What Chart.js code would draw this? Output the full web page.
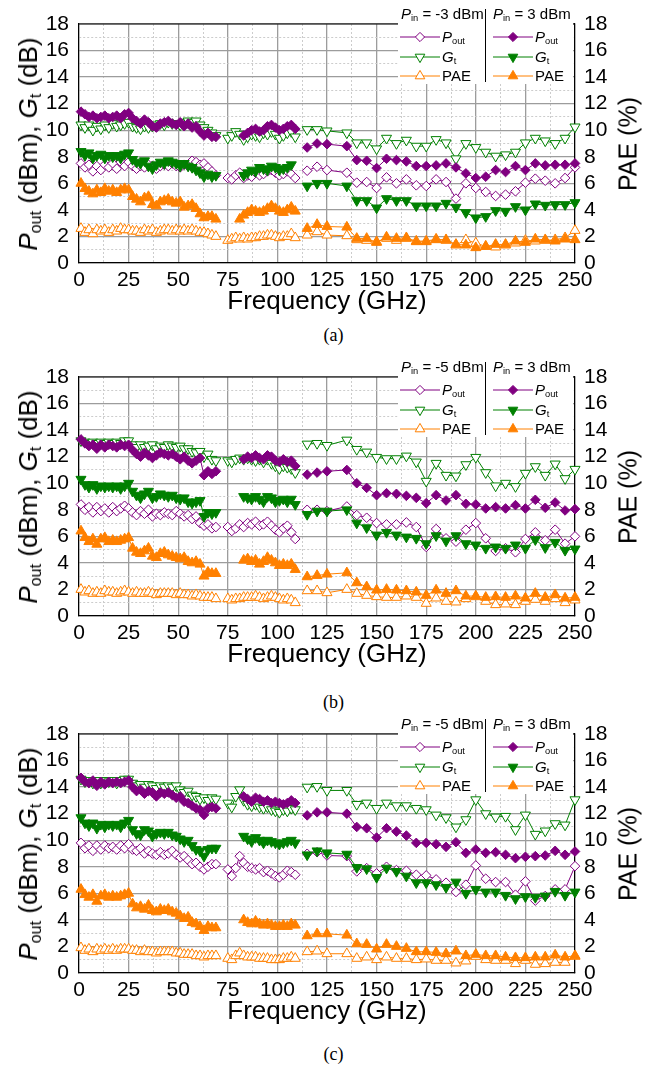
<!DOCTYPE html>
<html>
<head>
<meta charset="utf-8">
<script src="https://cdn.jsdelivr.net/npm/chart.js@4.4.1/dist/chart.umd.min.js"></script>
<style>
  body { margin: 0; background: #fff; font-family: "Liberation Sans", Arial, sans-serif; }
  #page { position: relative; width: 667px; height: 1069px; overflow: hidden; }
  .panel { position: absolute; left: 0; width: 667px; height: 360px; }
  .panel canvas { position: absolute; left: 0; top: 0; }
  .ytitle { position: absolute; white-space: nowrap; transform: translate(-50%, -50%) rotate(-90deg); color: #000; }
  .ytitle sub, .leg sub { font-size: 0.62em; vertical-align: -0.25em; font-style: normal; }
  .tag { position: absolute; width: 667px; text-align: center; font-family: "Liberation Serif", "Times New Roman", serif; font-size: 18px; }
  .legbox { position: absolute; background: #fff; }
  .leg { position: absolute; font-size: 15px; line-height: 18px; white-space: nowrap; color: #000; }
  .legdiv { position: absolute; width: 1px; background: #000; }
</style>
</head>
<body>
<div id="page"></div>
<script>
// frequency grid (GHz): dense coax band, W band, and 5 GHz steps above
const FREQ_LOW = [1,3,5,7,9,11,13,15,17,19,21,23,25,27,29,31,33,35,37,39,41,43,45,47,49,51,53,55,57,59,61,63,65,67,69];
const FREQ_MID = [75,77,79,81,83,85,87,89,91,93,95,97,99,101,103,105,107,109];
const FREQ_HIGH = [115,120,125,135,140,145,150,155,160,165,170,175,180,185,190,195,200,205,210,215,220,225,230,235,240,245,250];

const X_TICKS = [0,25,50,75,100,125,150,175,200,225,250];
const Y_TICKS = [0,2,4,6,8,10,12,14,16,18];

// (a) Pin = -3 dBm / 3 dBm
const aPoutLo = [7.5,7.2,7.4,6.9,7.3,7.0,7.4,7.2,7.5,7.1, 7.6,7.3,7.6,7.3,7.1,7.3,7.2,7.4,7.3,7.1, 7.3,7.4,7.3,7.5,7.3,7.2,7.4,7.3,7.7,7.6, 7.4,7.5,7.2,6.9,6.6,
  6.4,6.3,6.6,6.8,6.4,6.6,6.5,6.8,6.6,6.7, 6.9,7.0,6.8,6.6,6.7,6.9,6.7,6.4,
  6.95,7.25,7.0,6.8,6.05,6.1,5.65,6.45,6.0,6.3, 5.85,5.8,6.3,6.1,4.85,6.0,5.65,5.35,5.05,5.15, 5.4,6.05,6.35,6.2,6.0,6.4,7.2];
const aGtLo = [10.4,10.2,10.4,10.0,10.3,10.1,10.4,10.2,10.5,10.3, 10.4,10.5,10.6,10.3,10.2,10.1,10.3,10.2,10.3,10.4, 10.5,10.4,10.6,10.5,10.5,10.4,10.6,10.7,10.6,10.7, 10.4,10.2,10.0,9.8,9.6,
  9.4,9.6,9.9,9.7,9.3,9.5,9.7,9.6,9.5,9.8, 9.7,9.9,9.7,9.4,9.6,9.8,9.9,9.5,
  10.05,10.05,9.95,9.8,9.05,9.05,8.6,9.4,9.0,9.25, 8.8,8.8,9.3,9.05,7.85,9.0,8.7,8.35,8.05,8.15, 8.35,9.05,9.4,9.2,9.0,9.4,10.25];
const aPaeLo = [2.6,2.3,2.5,2.2,2.5,2.4,2.5,2.3,2.5,2.4, 2.6,2.5,2.5,2.4,2.4,2.3,2.5,2.4,2.5,2.3, 2.4,2.5,2.5,2.4,2.5,2.4,2.5,2.4,2.5,2.4, 2.3,2.3,2.2,2.1,2.0,
  1.7,1.8,1.9,1.8,1.9,1.8,1.9,1.9,2.0,2.0, 2.1,2.1,2.0,1.9,2.0,2.0,2.2,1.9,
  2.1,2.35,2.1,2.05,1.75,1.7,1.6,1.85,1.7,1.85, 1.65,1.65,1.8,1.7,1.35,1.75,1.5,1.25,1.2,1.35, 1.5,1.7,1.65,1.7,1.75,1.9,2.45];
const aPoutHi = [11.4,11.2,11.0,11.1,10.9,11.0,11.1,10.9,11.0,11.1, 10.9,11.2,11.3,10.9,10.7,10.5,10.8,10.6,10.3,10.2, 10.5,10.6,10.7,10.5,10.4,10.6,10.3,10.5,10.2,10.3, 9.9,9.6,9.8,9.5,9.5,
  null,null,null,null,9.6,9.8,10.0,10.1,9.9,10.0, 10.3,10.4,10.2,10.0,10.1,10.3,10.4,10.1,
  8.7,9.0,8.95,8.8,7.75,7.7,7.15,7.85,7.75,7.65, 7.3,7.3,7.35,7.5,7.2,6.75,6.4,6.5,7.0,6.85, 7.3,7.0,7.5,7.35,7.4,7.4,7.5];
const aGtHi = [8.4,8.1,8.3,7.9,8.1,8.2,7.9,8.1,8.0,8.1, 7.9,8.2,8.3,7.8,7.6,7.5,7.7,7.3,7.1,7.4, 7.6,7.5,7.7,7.6,7.5,7.3,7.5,7.3,7.2,7.0, 6.8,6.5,6.7,6.5,6.6,
  null,null,null,null,6.6,6.8,7.0,6.9,7.2,7.1, 7.0,7.3,7.2,7.0,7.1,7.2,7.4,null,
  5.8,6.0,6.0,5.8,4.7,4.7,4.15,4.85,4.7,4.7, 4.3,4.3,4.3,4.5,4.2,3.8,3.4,3.5,3.95,3.9, 4.25,4.0,4.45,4.35,4.4,4.4,4.55];
const aPaeHi = [6.0,5.6,5.4,5.2,5.5,5.3,5.6,5.4,5.5,5.3, 5.5,5.6,5.5,5.0,4.8,4.6,4.9,5.0,4.4,4.3, 4.6,4.7,4.8,4.6,4.5,4.6,4.2,4.3,4.4,4.1, 3.7,3.4,3.5,3.5,3.3,
  null,null,null,3.3,3.6,3.8,4.0,3.9,3.8,3.9, 4.1,4.3,4.1,3.9,3.8,4.0,4.2,3.9,
  2.6,2.9,2.75,2.7,1.85,1.85,1.55,1.95,1.85,1.9, 1.6,1.6,1.75,1.75,1.4,1.35,1.15,1.25,1.4,1.4, 1.65,1.55,1.8,1.75,1.65,1.8,1.75];

// (b) Pin = -5 dBm / 3 dBm
const bPoutLo = [8.4,8.0,8.2,7.8,8.2,7.9,8.1,7.8,8.2,7.9, 8.1,8.3,8.1,7.8,7.6,7.9,7.7,8.0,7.5,7.7, 7.6,7.8,7.7,7.6,7.9,7.7,7.5,7.6,7.3,7.5, 7.0,6.8,6.9,6.6,6.7,
  6.7,6.4,6.6,6.9,6.7,7.0,6.9,7.1,6.8,6.9, 7.1,6.8,6.5,6.3,6.6,6.8,6.3,5.8,
  8.0,8.0,7.9,8.25,7.6,7.4,7.0,6.9,6.9,7.05, 6.7,5.2,6.55,5.85,5.6,6.5,7.0,5.85,4.9,5.1, 4.8,5.8,6.3,5.7,6.5,5.45,6.0];
const bGtLo = [13.2,13.1,13.0,13.1,13.0,13.1,13.0,13.1,13.0,13.1, 13.0,13.2,13.2,12.9,12.7,12.9,12.7,12.8,12.9,12.6, 12.8,12.7,12.9,12.8,12.7,12.8,12.6,12.6,12.4,12.3, 12.4,12.0,12.2,11.8,11.7,
  11.7,11.6,11.8,11.9,11.8,11.9,11.8,11.7,11.8,11.6, 11.8,11.5,11.3,11.1,11.3,11.2,11.1,10.8,
  12.95,13.0,12.85,13.25,12.55,12.35,11.95,11.85,11.85,12.05, 11.6,10.15,11.5,10.6,10.55,11.4,11.95,10.8,9.8,10.0, 9.75,10.75,11.25,10.6,11.45,10.35,11.05];
const bPaeLo = [2.0,1.8,1.9,1.7,1.8,1.7,1.9,1.8,1.8,1.7, 1.8,1.9,1.8,1.7,1.8,1.7,1.7,1.8,1.7,1.6, 1.7,1.7,1.7,1.7,1.6,1.7,1.6,1.6,1.5,1.6, 1.5,1.4,1.4,1.4,1.3,
  1.3,1.2,1.3,1.3,1.4,1.4,1.4,1.5,1.4,1.3, 1.4,1.5,1.4,1.3,1.2,1.3,1.2,1.0,
  1.9,1.9,1.75,2.0,1.7,1.55,1.45,1.4,1.4,1.5, 1.4,0.95,1.35,1.1,1.05,1.3,1.45,1.1,0.85,0.9, 0.85,1.1,1.25,1.1,1.3,1.0,1.2];
const bPoutHi = [13.3,13.0,12.8,12.9,12.6,12.9,12.7,12.9,12.8,12.7, 12.9,12.8,12.9,12.5,12.2,12.0,12.3,12.1,11.9,12.1, 12.3,12.2,12.1,12.2,12.0,11.8,12.0,11.7,11.5,11.7, 11.9,10.6,10.9,10.7,10.9,
  null,null,null,null,11.8,12.0,11.9,12.1,11.9,11.8, 12.1,12.0,11.7,11.6,11.8,11.6,11.7,11.3,
  10.65,10.8,10.9,11.0,10.0,9.65,9.1,9.25,9.2,9.05, 8.9,8.5,9.1,8.7,9.1,8.45,8.4,8.1,8.2,8.1, 8.35,8.1,8.75,8.15,8.55,7.95,8.05];
const bGtHi = [10.3,9.9,9.7,9.9,9.6,9.8,9.7,9.8,9.7,9.8, 9.6,9.8,10.0,9.4,9.1,8.9,9.2,9.4,8.9,9.0, 9.2,9.1,9.0,9.1,8.9,8.8,8.9,8.6,8.5,8.6, 8.7,7.5,7.8,7.7,7.8,
  null,null,null,null,9.0,8.9,8.8,9.0,8.8,8.6, 9.0,8.9,8.6,8.7,8.8,8.6,8.8,8.4,
  7.65,7.9,7.9,8.0,7.0,6.65,6.1,6.3,6.1,5.95, 5.85,5.45,6.05,5.65,6.05,5.45,5.35,5.1,5.2,5.1, 5.35,5.1,5.75,5.15,5.55,4.95,5.05];
const bPaeHi = [6.4,5.9,5.6,5.8,5.4,5.8,5.9,5.6,5.7,5.6, 5.7,5.8,5.9,5.1,4.8,4.7,4.9,5.1,4.5,4.4, 4.7,4.8,4.6,4.5,4.4,4.3,4.4,4.1,4.0,4.1, 3.9,3.0,3.3,3.2,3.2,
  null,null,null,null,4.2,4.3,4.1,4.2,3.9,4.1, 4.4,4.2,4.0,3.8,3.9,3.8,3.9,3.5,
  2.95,3.05,3.15,3.25,2.5,2.2,1.95,2.0,1.95,1.9, 1.8,1.55,1.95,1.7,1.9,1.5,1.5,1.4,1.45,1.4, 1.5,1.35,1.7,1.4,1.6,1.35,1.4];

// (c) Pin = -5 dBm / 3 dBm
const cPoutLo = [9.8,9.4,9.6,9.2,9.6,9.3,9.6,9.4,9.5,9.3, 9.6,9.4,9.7,9.3,9.2,9.4,9.0,9.2,9.0,8.9, 9.1,8.9,9.0,9.2,8.9,8.7,8.8,8.5,8.2,8.3, 8.0,7.8,8.0,8.2,8.2,
  7.8,7.3,7.9,8.8,8.3,8.0,7.9,7.8,7.9,7.6, 7.7,7.5,7.3,7.2,7.4,7.7,7.6,7.4,
  8.98,9.1,8.85,8.8,7.65,7.9,7.5,8.0,7.75,7.7, 7.4,7.35,7.05,6.8,6.1,6.65,8.1,7.1,6.85,6.85, 5.9,6.9,5.45,5.8,6.3,6.3,8.05];
const cGtLo = [14.6,14.4,14.5,14.3,14.5,14.3,14.5,14.4,14.5,14.3, 14.5,14.6,14.6,14.3,14.1,14.2,14.0,14.2,14.1,13.9, 14.1,14.0,14.1,14.0,14.1,13.8,13.6,13.7,13.4,13.3, 13.1,13.2,13.0,13.2,13.1,
  12.8,12.5,13.3,13.8,13.0,12.7,12.6,12.7,12.5,12.4, 12.5,12.3,12.2,12.1,12.3,12.2,12.4,12.3,
  14.0,14.05,13.75,13.75,12.7,12.8,12.4,12.8,12.6,12.6, 12.4,12.3,11.9,11.7,11.0,11.55,13.05,12.0,11.75,11.8, 10.8,11.9,10.45,10.7,11.25,11.15,13.05];
const cPaeLo = [1.9,1.7,1.8,1.6,1.8,1.7,1.8,1.7,1.8,1.7, 1.8,1.8,1.8,1.7,1.7,1.6,1.7,1.6,1.6,1.5, 1.6,1.6,1.6,1.6,1.5,1.5,1.4,1.4,1.4,1.3, 1.3,1.2,1.3,1.3,1.3,
  1.1,1.0,1.3,1.5,1.3,1.2,1.2,1.2,1.1,1.1, 1.1,1.0,1.0,1.0,1.1,1.1,1.2,1.1,
  1.6,1.65,1.45,1.45,1.1,1.2,1.0,1.2,1.1,1.1, 1.0,1.05,0.95,0.95,0.75,0.9,1.25,1.0,0.95,0.95, 0.7,0.95,0.65,0.7,0.8,0.8,1.25];
const cPoutHi = [14.7,14.4,14.3,14.5,14.1,14.4,14.2,14.4,14.3,14.4, 14.3,14.4,14.5,14.0,13.7,13.8,13.5,13.7,13.6,13.3, 13.6,13.5,13.6,13.4,13.2,13.3,12.9,12.8,12.6,12.4, 12.3,11.9,12.4,12.5,12.4,
  null,null,null,null,13.3,13.1,12.9,13.2,13.1,12.9, 13.0,12.8,12.9,12.8,12.7,12.8,13.0,12.8,
  11.87,12.1,12.1,12.0,11.0,10.9,10.2,10.9,10.65,10.35, 9.8,9.8,9.7,9.5,9.85,9.05,9.3,9.05,9.1,8.9, 8.65,8.75,8.8,8.85,9.2,8.9,9.15];
const cGtHi = [11.7,11.3,11.1,11.3,10.9,11.2,11.0,11.2,11.1,11.2, 11.0,11.3,11.5,10.8,10.5,10.4,10.8,10.7,10.3,10.5, 10.6,10.5,10.6,10.4,10.3,10.1,9.9,10.0,9.6,9.3, 9.2,8.8,9.3,9.4,9.4,
  null,null,null,null,10.3,10.1,9.9,10.2,10.0,9.8, 10.0,9.9,9.8,9.7,9.8,9.9,10.0,9.8,
  8.9,9.2,9.05,8.95,7.95,7.85,7.2,7.9,7.65,7.3, 6.8,6.8,6.65,6.45,6.85,6.0,6.3,6.1,6.1,5.85, 5.6,5.75,5.7,5.8,6.15,5.85,6.1];
const cPaeHi = [6.3,5.9,5.7,5.9,5.4,5.8,5.9,5.7,5.8,5.7, 5.8,5.9,6.0,5.2,4.9,5.0,4.8,5.1,4.7,4.6, 4.8,4.7,4.8,4.6,4.5,4.3,4.1,4.2,3.8,3.7, 3.5,3.2,3.5,3.4,3.4,
  null,null,null,null,4.0,3.8,3.7,3.9,3.7,3.6, 3.7,3.6,3.5,3.5,3.6,3.5,3.7,3.6,
  2.8,2.95,2.95,2.85,2.2,2.15,1.8,2.15,2.0,1.85, 1.6,1.6,1.55,1.45,1.65,1.3,1.4,1.3,1.3,1.2, 1.15,1.15,1.2,1.2,1.35,1.2,1.3];

const PURPLE = '#800080', GREEN = '#008000', ORANGE = '#ff8000';
const PLOT_TOP = 24, PLOT_H = 239, CANVAS_H = 320;

// join the three frequency bands, breaking the line between them
function toPoints(values) {
  const pts = [];
  let k = 0;
  [FREQ_LOW, FREQ_MID, FREQ_HIGH].forEach(f => {
    f.forEach(x => pts.push({x: x, y: values[k++]}));
    pts.push({x: f[f.length - 1] + 1, y: null});
  });
  return pts;
}

function series(label, values, color, shape, filled, axis) {
  return {
    label: label,
    data: toPoints(values),
    borderColor: color,
    backgroundColor: filled ? color : '#fff',
    pointBackgroundColor: filled ? color : '#fff',
    pointStyle: shape === 'diamond' ? 'rectRot' : 'triangle',
    pointRotation: shape === 'down' ? 180 : 0,
    pointRadius: shape === 'diamond' ? 4.8 : 5.8,
    pointBorderWidth: 1,
    borderWidth: 1,
    yAxisID: axis,
    spanGaps: false,
    tension: 0,
    clip: false,
    order: filled ? 1 : 2,
    _shape: shape,
    _filled: filled
  };
}

const frame = {
  id: 'frame',
  afterDraw(chart) {
    const {ctx, chartArea} = chart;
    ctx.save();
    ctx.strokeStyle = '#000';
    ctx.lineWidth = 1.2;
    ctx.beginPath();
    ctx.moveTo(chartArea.left, chartArea.top);
    ctx.lineTo(chartArea.right, chartArea.top);
    ctx.stroke();
    ctx.restore();
  }
};

const tickFont = {family: 'Liberation Sans', size: 21};
const gridColor = c => (c.index % 2 ? '#cccccc' : '#9c9c9c');
const gridWidth = c => (c.index % 2 ? 1 : 1.3);
const gridDash = c => (c.index % 2 ? [2, 2] : []);

function yAxis(pos) {
  return {
    type: 'linear',
    position: pos,
    min: 0, max: 18,
    afterFit: s => { s.width = pos === 'left' ? 79 : 92; },
    ticks: {
      stepSize: 1, autoSkip: false, padding: pos === 'left' ? 10 : 9, color: '#000', font: tickFont,
      callback: v => (Y_TICKS.includes(v) ? v : '')
    },
    grid: {display: pos === 'left', drawOnChartArea: pos === 'left', drawTicks: false, color: gridColor, lineWidth: gridWidth},
    border: {color: '#000', width: 1.2, dash: gridDash}
  };
}

function markerSvg(ds) {
  const c = ds.borderColor, fill = ds._filled ? c : '#fff';
  let shape;
  if (ds._shape === 'diamond') shape = '<polygon points="21,3.4 25.6,8 21,12.6 16.4,8" />';
  else if (ds._shape === 'up') shape = '<polygon points="21,2.4 25.8,10.8 16.2,10.8" />';
  else shape = '<polygon points="21,13.6 25.8,5.2 16.2,5.2" />';
  return '<svg width="42" height="16" style="position:absolute;left:0;top:1px">' +
    '<line x1="1" y1="8" x2="41" y2="8" stroke="' + c + '" stroke-width="1"/>' +
    shape.replace('/>', 'fill="' + fill + '" stroke="' + c + '" stroke-width="1"/>') + '</svg>';
}

const LABELS = ['<i>P</i><sub>out</sub>', '<i>G</i><sub>t</sub>', 'PAE'];

function panel(top, tag, tagY, pinLo, sets) {
  const page = document.getElementById('page');
  const box = document.createElement('div');
  box.className = 'panel';
  box.style.top = top + 'px';
  const cv = document.createElement('canvas');
  cv.width = 667; cv.height = CANVAS_H;
  box.appendChild(cv);
  page.appendChild(box);

  const datasets = [
    series('Pout ' + pinLo, sets[0], PURPLE, 'diamond', false, 'y'),
    series('Gt ' + pinLo, sets[1], GREEN, 'down', false, 'y'),
    series('PAE ' + pinLo, sets[2], ORANGE, 'up', false, 'y2'),
    series('Pout 3', sets[3], PURPLE, 'diamond', true, 'y'),
    series('Gt 3', sets[4], GREEN, 'down', true, 'y'),
    series('PAE 3', sets[5], ORANGE, 'up', true, 'y2')
  ];

  new Chart(cv, {
    type: 'line',
    data: {datasets: datasets},
    plugins: [frame],
    options: {
      responsive: false,
      animation: false,
      layout: {padding: {top: PLOT_TOP, left: 0, right: 0, bottom: 0}},
      plugins: {legend: {display: false}, tooltip: {enabled: false}},
      scales: {
        x: {
          type: 'linear', min: 0, max: 250,
          afterFit: s => { s.height = CANVAS_H - PLOT_TOP - PLOT_H; },
          ticks: {
            stepSize: 12.5, autoSkip: false, maxRotation: 0, padding: 5, color: '#000', font: tickFont,
            callback: v => (X_TICKS.includes(v) ? v : '')
          },
          grid: {drawTicks: false, color: gridColor, lineWidth: gridWidth},
          border: {color: '#000', width: 1.2, dash: gridDash},
          title: {display: true, text: 'Frequency (GHz)', color: '#000',
                  font: {family: 'Liberation Sans', size: 26}, padding: {top: 0, bottom: 3}}
        },
        y: yAxis('left'),
        y2: yAxis('right')
      }
    }
  });

  const cy = PLOT_TOP + PLOT_H / 2;
  const add = (cls, html, css) => {
    const d = document.createElement('div');
    d.className = cls;
    d.innerHTML = html;
    Object.assign(d.style, css);
    box.appendChild(d);
    return d;
  };
  add('ytitle', '<i>P</i><sub>out</sub> (dBm), <i>G</i><sub>t</sub> (dB)', {left: '29px', top: cy + 'px', fontSize: '26px'});
  add('ytitle', 'PAE (%)', {left: '628px', top: cy + 'px', fontSize: '25px'});
  add('tag', tag, {left: '0px', top: (tagY - top - 11) + 'px'});

  // legend: two columns, header with input power
  add('legbox', '', {left: '398px', top: (PLOT_TOP - 17) + 'px', width: '175px', height: '77px'});
  add('legdiv', '', {left: '485px', top: (PLOT_TOP - 15) + 'px', height: '73px'});
  add('leg', '<i>P</i><sub>in</sub> = ' + pinLo + ' dBm', {left: '401px', top: (PLOT_TOP - 19) + 'px'});
  add('leg', '<i>P</i><sub>in</sub> = 3 dBm', {left: '493px', top: (PLOT_TOP - 19) + 'px'});
  const rowY = [13, 33, 52];
  for (let i = 0; i < 3; i++) {
    const y = PLOT_TOP + rowY[i] - 9;
    add('leg', markerSvg(datasets[i]), {left: '399px', top: y + 'px', width: '42px', height: '18px'});
    add('leg', LABELS[i], {left: '442px', top: y + 'px'});
    add('leg', markerSvg(datasets[i + 3]), {left: '492px', top: y + 'px', width: '42px', height: '18px'});
    add('leg', LABELS[i], {left: '535px', top: y + 'px'});
  }
}

panel(0, '(a)', 336, '-3', [aPoutLo, aGtLo, aPaeLo, aPoutHi, aGtHi, aPaeHi]);
panel(353, '(b)', 703, '-5', [bPoutLo, bGtLo, bPaeLo, bPoutHi, bGtHi, bPaeHi]);
panel(710, '(c)', 1055, '-5', [cPoutLo, cGtLo, cPaeLo, cPoutHi, cGtHi, cPaeHi]);
</script>
</body>
</html>
